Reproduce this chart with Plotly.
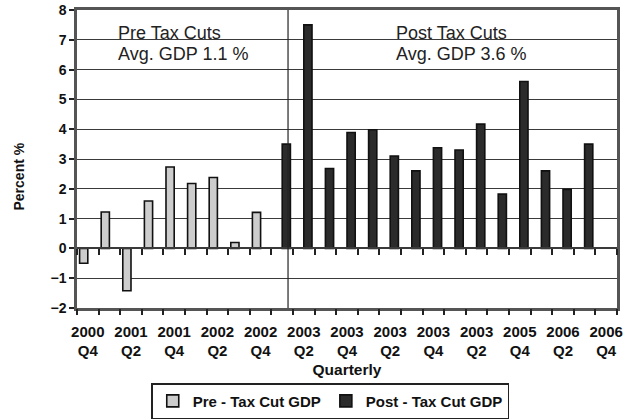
import plotly.graph_objects as go

# ---- data ----
quarters = ["2000Q4", "2001Q1", "2001Q2", "2001Q3", "2001Q4", "2002Q1", "2002Q2",
            "2002Q3", "2002Q4", "2003Q1", "2003Q2", "2003Q3", "2003Q4", "2004Q1",
            "2004Q2", "2004Q3", "2004Q4", "2005Q1", "2005Q2", "2005Q3", "2005Q4",
            "2006Q1", "2006Q2", "2006Q3", "2006Q4"]
pre_values = [-0.5, 1.22, -1.42, 1.59, 2.73, 2.18, 2.38, 0.2, 1.21]
post_values = [3.5, 7.5, 2.68, 3.89, 3.98, 3.1, 2.6, 3.38, 3.3, 4.17, 1.82, 5.6, 2.6, 1.98, 3.5]
tick_labels = ["2000<br>Q4", "2001<br>Q2", "2001<br>Q4", "2002<br>Q2", "2002<br>Q4",
               "2003<br>Q2", "2003<br>Q4", "2003<br>Q2", "2003<br>Q4", "2003<br>Q2",
               "2005<br>Q4", "2006<br>Q2", "2006<br>Q4"]
y_range = [-2, 8]
divider_x = 9.27

n = len(quarters)
idx = list(range(n))
pre_x = idx[:len(pre_values)]
post_x = idx[len(pre_values):len(pre_values) + len(post_values)]
tick_pos = idx[::2]
bounds = [i - 0.5 for i in range(n + 1)]
x_range = [-0.5, n - 0.5]
bar_w = 0.38

FONT = "Liberation Sans, Arial, sans-serif"
GRID = "#3a3a3a"

fig = go.Figure()
fig.add_trace(go.Bar(x=pre_x, y=pre_values, name="Pre - Tax Cut GDP",
                     width=bar_w, offset=-bar_w,
                     marker=dict(color="#cdcdcd", line=dict(color="#111", width=1.6))))
fig.add_trace(go.Bar(x=post_x, y=post_values, name="Post - Tax Cut GDP",
                     width=bar_w, offset=0,
                     marker=dict(color="#2b2b2b", line=dict(color="#111", width=1.6))))

# invisible traces to activate overlay axes
fig.add_trace(go.Scatter(x=[0], y=[None], xaxis="x2", showlegend=False, hoverinfo="skip"))
fig.add_trace(go.Scatter(x=[0], y=[None], xaxis="x3", showlegend=False, hoverinfo="skip"))

fig.add_shape(type="line", xref="x", yref="paper", x0=divider_x, x1=divider_x, y0=0, y1=1,
              line=dict(color="#222", width=1.2), layer="above")

zero_pos = (0 - y_range[0]) / (y_range[1] - y_range[0])

fig.update_layout(
    width=623, height=420,
    margin=dict(l=77, r=6, t=10, b=112),
    paper_bgcolor="white", plot_bgcolor="white",
    barmode="overlay",
    font=dict(family=FONT, color="#111"),
    xaxis=dict(range=x_range, tickmode="array", tickvals=tick_pos, ticktext=tick_labels,
               ticks="outside", ticklen=8, tickcolor="rgba(0,0,0,0)",
               tickfont=dict(size=15, family=FONT, weight="bold", color="#111"),
               showgrid=False, zeroline=False, automargin=False,
               showline=True, linecolor="#555", linewidth=2.5, mirror=True,
               title=dict(text="<b>Quarterly</b>", font=dict(size=15.5, family=FONT, color="#111"),
                          standoff=6)),
    xaxis2=dict(range=x_range, overlaying="x", anchor="y", side="bottom",
                tickmode="array", tickvals=bounds, ticks="outside", ticklen=6,
                tickwidth=1.5, tickcolor="#222", automargin=False,
                showticklabels=False, showgrid=False, zeroline=False, showline=False),
    xaxis3=dict(range=x_range, overlaying="x", anchor="free", position=zero_pos,
                tickmode="array", tickvals=bounds, ticks="outside", ticklen=6,
                tickwidth=1.5, tickcolor="#222", automargin=False,
                showticklabels=False, showgrid=False, zeroline=False,
                showline=True, linecolor=GRID, linewidth=1.5),
    yaxis=dict(range=y_range, tickmode="linear", dtick=1, ticks="outside", ticklen=5,
               tickwidth=1.5, tickcolor="#222", automargin=False,
               tickfont=dict(size=14, family=FONT, weight="bold", color="#111"),
               showgrid=True, gridcolor=GRID, gridwidth=1.4, zeroline=False,
               showline=True, linecolor="#555", linewidth=2.5, mirror=True),
    legend=dict(orientation="h", x=0.469, xanchor="center",
                yref="container", y=0.002, yanchor="bottom",
                bordercolor="#222", borderwidth=1.5, bgcolor="white",
                font=dict(size=15, family=FONT, weight="bold", color="#111"),
                itemwidth=30, tracegroupgap=0),
    showlegend=True,
)

fig.add_annotation(text="<b>Percent %</b>", xref="paper", yref="paper",
                   x=-0.107, y=0.442, xanchor="center", yanchor="middle",
                   textangle=-90, showarrow=False,
                   font=dict(size=14, family=FONT, color="#111"))

ann_font = dict(size=18, family=FONT, color="#222")
fig.add_annotation(text="Pre Tax Cuts", x=1.32, y=7.23, xref="x", yref="y",
                   xanchor="left", showarrow=False, font=ann_font)
fig.add_annotation(text="Avg. GDP 1.1 %", x=1.32, y=6.52, xref="x", yref="y",
                   xanchor="left", showarrow=False, font=ann_font)
fig.add_annotation(text="Post Tax Cuts", x=14.17, y=7.23, xref="x", yref="y",
                   xanchor="left", showarrow=False, font=ann_font)
fig.add_annotation(text="Avg. GDP 3.6 %", x=14.17, y=6.52, xref="x", yref="y",
                   xanchor="left", showarrow=False, font=ann_font)

fig.write_html("out.html")
